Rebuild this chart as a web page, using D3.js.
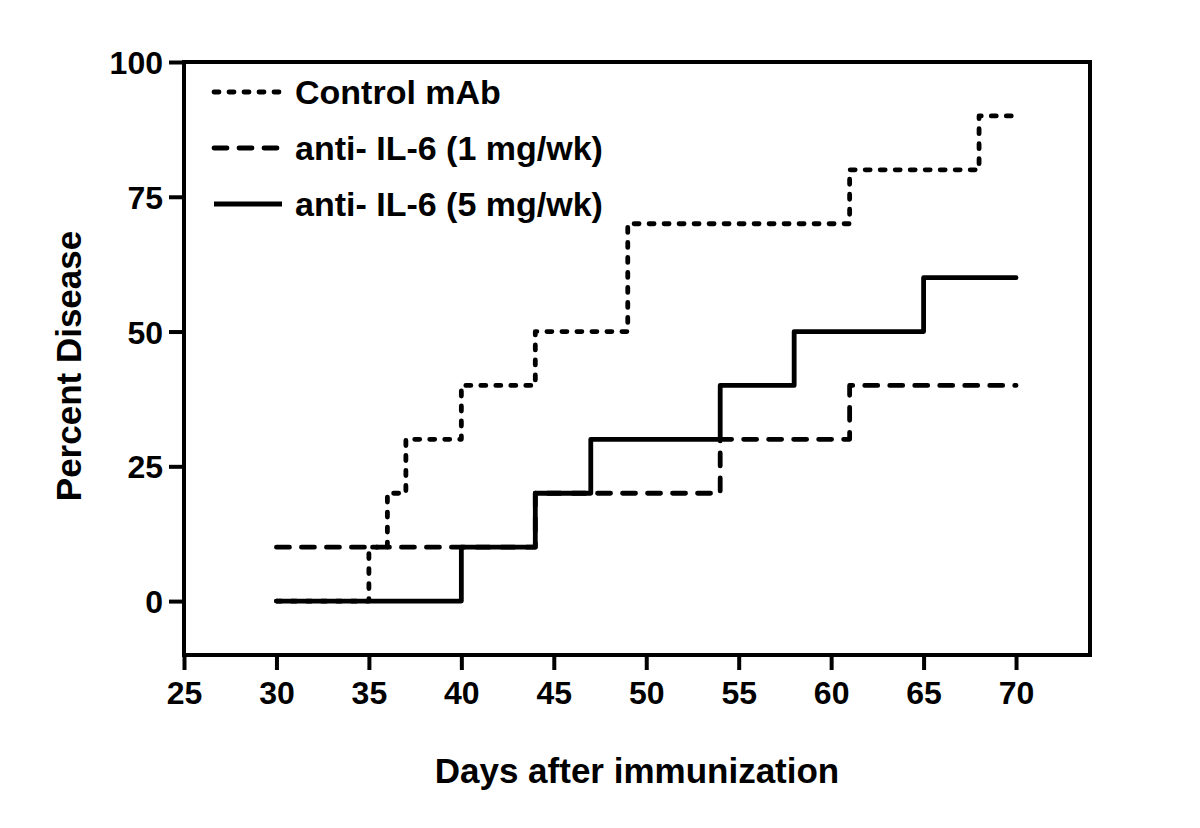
<!DOCTYPE html>
<html>
<head>
<meta charset="utf-8">
<script src="https://cdn.jsdelivr.net/npm/d3@7"></script>
<style>
  html, body { margin: 0; padding: 0; background: #fff; }
  svg { display: block; }
  text { font-family: "Liberation Sans", Arial, Helvetica, sans-serif; font-weight: bold; fill: #000; }
</style>
</head>
<body>
<script>
// ---- data ----
const seriesNames = ["Control mAb", "anti- IL-6 (1 mg/wk)", "anti- IL-6 (5 mg/wk)"];
const controlDays = [30, 35, 36, 37, 40, 44, 49, 61, 68, 70];
const controlPct  = [0, 10, 20, 30, 40, 50, 70, 80, 90, 90];
const low1Days    = [30, 44, 54, 61, 70];
const low1Pct     = [10, 20, 30, 40, 40];
const high5Days   = [30, 40, 44, 47, 54, 58, 65, 70];
const high5Pct    = [0, 10, 20, 30, 40, 50, 60, 60];
const xTicks = [25, 30, 35, 40, 45, 50, 55, 60, 65, 70];
const yTicks = [0, 25, 50, 75, 100];

const W = 1200, H = 828;
const mLeft = 184, mRight = 1090, mTop = 62, mBottom = 655;

const svg = d3.select("body").append("svg").attr("width", W).attr("height", H);

const x = d3.scaleLinear().domain([25, 74]).range([mLeft, mRight]);
const y = d3.scaleLinear().domain([-10, 100]).range([mBottom, mTop]);

// frame
svg.append("rect")
  .attr("x", mLeft).attr("y", mTop)
  .attr("width", mRight - mLeft).attr("height", mBottom - mTop)
  .attr("fill", "none").attr("stroke", "#000").attr("stroke-width", 4);

// x axis
const xAxis = svg.append("g").attr("transform", `translate(0,${mBottom})`)
  .call(d3.axisBottom(x).tickValues(xTicks).tickSize(15).tickPadding(5).tickFormat(d3.format("d")));
xAxis.select(".domain").remove();
xAxis.selectAll(".tick line").attr("stroke", "#000").attr("stroke-width", 4);
xAxis.selectAll(".tick text").style("font-size", "32px").attr("font-family", null).attr("dy", "0.9em");

// y axis
const yAxis = svg.append("g").attr("transform", `translate(${mLeft},0)`)
  .call(d3.axisLeft(y).tickValues(yTicks).tickSize(15).tickPadding(6).tickFormat(d3.format("d")));
yAxis.select(".domain").remove();
yAxis.selectAll(".tick line").attr("stroke", "#000").attr("stroke-width", 4);
yAxis.selectAll(".tick text").style("font-size", "32px").attr("font-family", null).attr("dy", "0.36em");

// titles
svg.append("text").attr("x", (mLeft + mRight) / 2).attr("y", 783)
  .attr("text-anchor", "middle").style("font-size", "35px").text("Days after immunization");
svg.append("text").attr("transform", `translate(81,366) rotate(-90)`)
  .attr("text-anchor", "middle").style("font-size", "35px").text("Percent Disease");

// series
const styles = [
  { dash: "5,10" },
  { dash: "13,12" },
  { dash: null }
];
const series = [
  { name: seriesNames[0], days: controlDays, pct: controlPct, style: styles[0] },
  { name: seriesNames[1], days: low1Days, pct: low1Pct, style: styles[1] },
  { name: seriesNames[2], days: high5Days, pct: high5Pct, style: styles[2] }
];

const line = d3.line().curve(d3.curveStepAfter).x(d => x(d[0])).y(d => y(d[1]));

series.forEach(s => {
  const pts = s.days.map((d, i) => [d, s.pct[i]]);
  svg.append("path").datum(pts)
    .attr("d", line)
    .attr("fill", "none").attr("stroke", "#000").attr("stroke-width", 4.8)
    .attr("stroke-linecap", "round").attr("stroke-linejoin", "round")
    .attr("stroke-dasharray", s.style.dash);
});

// legend
const legendYs = [92, 148, 204];
series.forEach((s, i) => {
  const g = svg.append("g").attr("transform", `translate(0,${legendYs[i]})`);
  g.append("line").attr("x1", 214).attr("x2", 282).attr("y1", 0).attr("y2", 0)
    .attr("stroke", "#000").attr("stroke-width", 4.8)
    .attr("stroke-linecap", s.style.dash ? "round" : "butt")
    .attr("stroke-dasharray", s.style.dash);
  g.append("text").attr("x", 295).attr("y", 0).attr("dy", "0.36em")
    .style("font-size", "34px").text(s.name);
});
</script>
</body>
</html>
